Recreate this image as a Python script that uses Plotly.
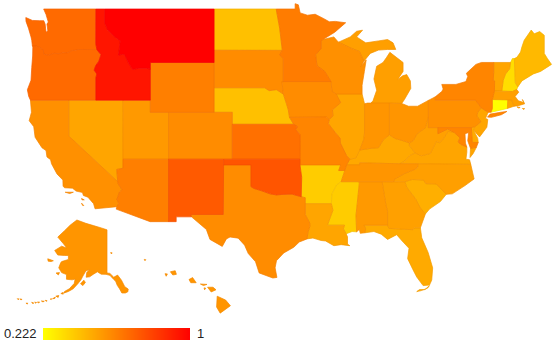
import math
import plotly.graph_objects as go
from plotly.colors import sample_colorscale

VMIN, VMAX = 0.222, 1.0
COLORSCALE = [[0, "#ffff00"], [1, "#ff0000"]]

state_values = {
    "AL": .533, "AK": .545, "AZ": .612, "AR": .378, "CA": .56, "CO": .573, "CT": .222, "DE": .48,
    "FL": .481, "GA": .512, "HI": .545, "ID": .936, "IL": .497, "IN": .545, "IA": .573, "KS": .658,
    "KY": .487, "LA": .497, "ME": .436, "MD": .594, "MA": .515, "MI": .515, "MN": .622, "MS": .378,
    "MO": .594, "MT": 1.0, "NE": .414, "NV": .497, "NH": .326, "NJ": .497, "NM": .725, "NY": .594,
    "NC": .515, "ND": .414, "OH": .545, "OK": .741, "OR": .677, "PA": .561, "RI": .5, "SC": .466,
    "SD": .573, "TN": .545, "TX": .573, "UT": .533, "VT": .497, "VA": .497, "WA": .677, "WV": .512,
    "WI": .56, "WY": .612,
}

# State outlines, (longitude, latitude)
outlines = {
"WA": [[(-122.76,49),(-117.03,49),(-117.04,46.42),(-116.92,45.99),(-118.98,46),(-119.3,45.93),(-119.6,45.92),(-120.2,45.73),(-120.65,45.74),(-121.2,45.65),(-121.53,45.72),(-122.25,45.55),(-122.75,45.65),(-122.8,45.95),(-123.2,46.15),(-123.55,46.26),(-124,46.27),(-124.07,46.7),(-124.15,46.95),(-124.43,47.6),(-124.7,48.1),(-124.72,48.38),(-124,48.17),(-123.2,48.15),(-122.75,48.15),(-122.6,47.9),(-122.5,47.3),(-122.3,47.4),(-122.4,47.9),(-122.25,48.05),(-122.5,48.6)]],
"OR": [[(-124,46.27),(-123.55,46.26),(-123.2,46.15),(-122.8,45.95),(-122.75,45.65),(-122.25,45.55),(-121.53,45.72),(-121.2,45.65),(-120.65,45.74),(-120.2,45.73),(-119.6,45.92),(-119.3,45.93),(-118.98,46),(-116.92,45.99),(-116.47,45.6),(-116.7,45.1),(-117.05,44.75),(-117.22,44.4),(-116.93,44.1),(-117.03,43.8),(-117.03,42),(-124.21,42),(-124.4,42.3),(-124.55,42.84),(-124.15,43.6),(-124.07,44.6),(-123.97,45.5),(-123.95,46.2)]],
"ID": [[(-117.03,49),(-116.05,49),(-116.05,47.97),(-115.72,47.45),(-114.95,46.95),(-114.35,46.65),(-114.55,45.56),(-114,45.65),(-113.8,45.5),(-113.45,44.95),(-113,44.45),(-112.3,44.55),(-111.5,44.55),(-111.05,44.48),(-111.05,42),(-117.03,42),(-117.03,43.8),(-116.93,44.1),(-117.22,44.4),(-117.05,44.75),(-116.7,45.1),(-116.47,45.6),(-116.92,45.99),(-117.04,46.42)]],
"MT": [[(-116.05,49),(-104.05,49),(-104.05,45),(-111.05,45),(-111.05,44.48),(-111.5,44.55),(-112.3,44.55),(-113,44.45),(-113.45,44.95),(-113.8,45.5),(-114,45.65),(-114.55,45.56),(-114.35,46.65),(-114.95,46.95),(-115.72,47.45),(-116.05,47.97)]],
"WY": [[(-111.05,45),(-104.05,45),(-104.05,41),(-111.05,41)]],
"UT": [[(-114.04,42),(-111.05,42),(-111.05,41),(-109.05,41),(-109.05,37),(-114.05,37)]],
"NV": [[(-120,42),(-114.04,42),(-114.05,37),(-114.05,36.2),(-114.74,36.1),(-114.63,35),(-120,39)]],
"CA": [[(-124.21,42),(-120,42),(-120,39),(-114.63,35),(-114.57,34.8),(-114.15,34.27),(-114.43,34.08),(-114.72,33.4),(-114.52,33.03),(-114.72,32.72),(-117.12,32.53),(-117.28,33),(-117.9,33.6),(-118.4,33.75),(-118.5,34.03),(-119.2,34.15),(-119.6,34.42),(-120.47,34.45),(-120.63,34.6),(-120.65,35.15),(-121.3,35.7),(-121.9,36.6),(-122,36.96),(-122.4,37.2),(-122.5,37.75),(-122.95,38),(-123.7,38.9),(-123.85,39.8),(-124.35,40.3),(-124.1,41)],
       [(-120.4,34.05),(-119.5,34.05),(-119.9,33.93)],[(-118.6,33.48),(-118.3,33.35),(-118.55,33.35)],[(-118.6,33.05),(-118.35,32.82),(-118.5,32.85)]],
"AZ": [[(-114.05,37),(-109.05,37),(-109.05,31.33),(-111.07,31.33),(-114.8,32.5),(-114.72,32.72),(-114.52,33.03),(-114.72,33.4),(-114.43,34.08),(-114.15,34.27),(-114.57,34.8),(-114.63,35),(-114.74,36.1),(-114.05,36.2)]],
"NM": [[(-109.05,37),(-103,37),(-103.04,32),(-106.62,32),(-106.53,31.78),(-108.21,31.78),(-108.21,31.33),(-109.05,31.33)]],
"CO": [[(-109.05,41),(-102.05,41),(-102.05,37),(-109.05,37)]],
"ND": [[(-104.05,49),(-97.23,49),(-96.85,47.6),(-96.56,45.93),(-104.05,45.94)]],
"SD": [[(-104.05,45.94),(-96.56,45.93),(-96.85,45.6),(-96.45,45.3),(-96.45,43.5),(-96.6,43.5),(-96.44,42.49),(-97.2,42.85),(-98,42.77),(-98.5,43),(-104.05,43)]],
"NE": [[(-104.05,43),(-98.5,43),(-98,42.77),(-97.2,42.85),(-96.44,42.49),(-96.1,41.7),(-95.9,41.2),(-95.77,40.58),(-95.31,40),(-102.05,40),(-102.05,41),(-104.05,41)]],
"KS": [[(-102.05,40),(-95.31,40),(-94.9,39.8),(-95.1,39.55),(-94.61,39.11),(-94.62,37),(-102.05,37)]],
"OK": [[(-103,37),(-94.62,37),(-94.62,36.5),(-94.43,35.4),(-94.48,33.64),(-95.5,33.88),(-96.6,33.85),(-97.2,33.8),(-97.9,33.9),(-98.9,34.2),(-99.7,34.4),(-100,34.56),(-100,36.5),(-103,36.5)]],
"TX": [[(-103.04,36.5),(-100,36.5),(-100,34.56),(-99.7,34.4),(-98.9,34.2),(-97.9,33.9),(-97.2,33.8),(-96.6,33.85),(-95.5,33.88),(-94.48,33.64),(-94.04,33.55),(-94.04,31.99),(-93.55,31.2),(-93.53,30.9),(-93.75,30.3),(-93.84,29.7),(-94.7,29.4),(-95.3,28.9),(-96.4,28.35),(-97.2,27.6),(-97.35,26.9),(-97.15,25.96),(-97.6,25.9),(-99.1,26.4),(-99.5,27.5),(-100.3,28.3),(-100.7,29.1),(-101.4,29.77),(-102.3,29.88),(-102.7,29.7),(-103.15,28.98),(-104.5,29.65),(-104.9,30.6),(-106.53,31.78),(-106.62,32),(-103.04,32)]],
"MN": [[(-97.23,49),(-95.15,49),(-95.15,49.38),(-94.8,49.3),(-94.6,48.72),(-93.8,48.55),(-92.95,48.62),(-92,48.3),(-91.4,48.07),(-90.75,48.1),(-89.6,48),(-90.8,47.3),(-92.1,46.75),(-92.3,46.66),(-92.29,46.07),(-92.9,45.6),(-92.75,44.75),(-91.9,44.3),(-91.22,43.5),(-96.45,43.5),(-96.45,45.3),(-96.85,45.6),(-96.56,45.93),(-96.85,47.6)]],
"IA": [[(-96.6,43.5),(-91.22,43.5),(-91.1,42.7),(-90.65,42.5),(-90.15,41.8),(-91.05,41.2),(-91,40.7),(-91.42,40.38),(-91.73,40.61),(-95.77,40.58),(-95.9,41.2),(-96.1,41.7),(-96.44,42.49)]],
"MO": [[(-95.77,40.58),(-91.73,40.61),(-91.42,40.38),(-91.5,40.05),(-90.75,39.3),(-90.2,38.8),(-90.18,38.4),(-89.5,37.3),(-89.15,37),(-89.5,36.5),(-89.7,36),(-90.37,36),(-90.15,36.5),(-94.62,36.5),(-94.62,37),(-94.61,39.11),(-95.1,39.55),(-94.9,39.8),(-95.31,40)]],
"AR": [[(-94.62,36.5),(-90.15,36.5),(-90.37,36),(-89.7,36),(-90.1,35),(-90.6,34.7),(-91.1,33.9),(-91.17,33),(-94.04,33),(-94.04,33.55),(-94.48,33.64),(-94.43,35.4)]],
"LA": [[(-94.04,33),(-91.17,33),(-91,32.4),(-91.6,31),(-89.73,31),(-89.85,30.65),(-89.55,30.18),(-89.4,29.9),(-89.4,29.2),(-89.15,29.05),(-90.1,29.15),(-90.9,29.05),(-91.8,29.5),(-92.3,29.55),(-93.2,29.78),(-93.84,29.7),(-93.75,30.3),(-93.53,30.9),(-93.55,31.2),(-94.04,31.99)]],
"MS": [[(-90.1,35),(-88.2,35),(-88.1,34.9),(-88.47,31.9),(-88.4,30.37),(-88.9,30.4),(-89.55,30.18),(-89.85,30.65),(-89.73,31),(-91.6,31),(-91,32.4),(-91.17,33),(-91.1,33.9),(-90.6,34.7)]],
"AL": [[(-88.2,35),(-85.6,35),(-85.18,32.87),(-85,32.3),(-85,31),(-87.6,31),(-87.4,30.65),(-87.5,30.28),(-88,30.23),(-88.1,30.6),(-88.4,30.37),(-88.47,31.9),(-88.1,34.9)]],
"TN": [[(-89.5,36.5),(-88.05,36.5),(-88.07,36.68),(-83.68,36.6),(-81.68,36.59),(-81.7,36.3),(-82,36.1),(-83.1,35.75),(-84.3,35.2),(-84.32,34.99),(-85.6,35),(-88.2,35),(-90.1,35),(-89.7,36)]],
"KY": [[(-89.15,37),(-89.5,36.5),(-88.05,36.5),(-88.07,36.68),(-83.68,36.6),(-83.1,36.85),(-82.6,37.3),(-81.97,37.54),(-82.6,38.17),(-82.6,38.42),(-83.3,38.6),(-84.2,38.8),(-84.8,39.1),(-85.45,38.7),(-86,38),(-86.8,37.95),(-88.05,37.8),(-88.5,37.1)]],
"IL": [[(-90.65,42.5),(-87.8,42.5),(-87.53,41.7),(-87.53,39.35),(-87.6,38.75),(-88.05,37.8),(-88.5,37.1),(-89.15,37),(-89.5,37.3),(-90.18,38.4),(-90.2,38.8),(-90.75,39.3),(-91.5,40.05),(-91.42,40.38),(-91,40.7),(-91.05,41.2),(-90.15,41.8)]],
"IN": [[(-87.53,41.7),(-87.2,41.76),(-84.8,41.76),(-84.8,39.1),(-85.45,38.7),(-86,38),(-86.8,37.95),(-88.05,37.8),(-87.6,38.75),(-87.53,39.35)]],
"OH": [[(-84.8,41.76),(-83.45,41.73),(-82.7,41.5),(-81.7,41.5),(-80.52,41.98),(-80.52,40.64),(-80.85,39.7),(-81.75,39.2),(-82.2,38.6),(-82.6,38.42),(-83.3,38.6),(-84.2,38.8),(-84.8,39.1)]],
"MI": [[(-86.82,41.76),(-84.8,41.76),(-83.45,41.73),(-83.15,42.05),(-82.45,42.95),(-82.5,43.55),(-82.9,44.05),(-83.35,43.95),(-83.9,43.65),(-83.3,44.3),(-83.3,45),(-84.75,45.78),(-85.1,45.4),(-85.5,45),(-86.2,44.7),(-86.5,43.7),(-86.2,42.8),(-86.6,41.95)],
       [(-90.4,46.55),(-89.1,46.95),(-88.4,47.37),(-87.75,47.45),(-88.4,46.95),(-87.4,46.5),(-86,46.65),(-85,46.75),(-84.4,46.5),(-84.1,46),(-85,46),(-86,45.95),(-86.9,45.7),(-87.6,45.1),(-88.1,45.85),(-89,46.1)]],
"WI": [[(-92.29,46.07),(-92.3,46.66),(-92.1,46.75),(-90.9,46.95),(-90.4,46.55),(-89,46.1),(-88.1,45.85),(-87.6,45.1),(-87.95,44.65),(-87.35,45.2),(-87.55,44.3),(-87.8,43.2),(-87.8,42.5),(-90.65,42.5),(-91.1,42.7),(-91.22,43.5),(-91.9,44.3),(-92.75,44.75),(-92.9,45.6)]],
"NY": [[(-79.76,42.27),(-79.05,42.7),(-78.9,42.9),(-79.05,43.27),(-77.5,43.27),(-76.4,43.5),(-76.2,43.9),(-76.35,44.15),(-75.3,44.85),(-74.7,45),(-73.35,45),(-73.35,44.2),(-73.4,43.6),(-73.25,43.55),(-73.27,42.75),(-73.5,42.05),(-73.5,41.3),(-73.65,41),(-73.95,41),(-74.7,41.36),(-75.35,42),(-79.76,42)],
       [(-74.03,40.6),(-73.75,40.85),(-72.6,41),(-71.9,41.07),(-72.5,40.8),(-73.6,40.58)]],
"PA": [[(-80.52,41.98),(-79.76,42.27),(-79.76,42),(-75.35,42),(-74.7,41.36),(-75.1,41),(-75.2,40.7),(-74.75,40.2),(-75.4,39.8),(-75.8,39.72),(-80.52,39.72)]],
"NJ": [[(-74.7,41.36),(-73.95,41),(-74.25,40.5),(-74,40.4),(-74.1,39.75),(-74.9,38.93),(-75.55,39.5),(-75.4,39.8),(-74.75,40.2),(-75.2,40.7),(-75.1,41)]],
"DE": [[(-75.8,39.72),(-75.4,39.8),(-75.55,39.5),(-75.1,38.8),(-75.05,38.45),(-75.7,38.46)]],
"MD": [[(-79.48,39.72),(-75.8,39.72),(-75.7,38.46),(-75.05,38.45),(-75.25,38.03),(-75.9,37.95),(-76.2,38.6),(-76.1,39.3),(-76.5,39.2),(-76.45,38.4),(-76.3,38.05),(-77,38.3),(-77.25,38.5),(-77.05,38.85),(-77.7,39.32),(-78.4,39.6),(-79.48,39.2)]],
"VA": [[(-83.68,36.6),(-75.87,36.55),(-76,36.95),(-76.4,37),(-76.3,37.6),(-76.3,38.05),(-77,38.3),(-77.25,38.5),(-77.05,38.85),(-77.7,39.32),(-78.35,39.4),(-78.87,38.77),(-79.3,38.42),(-79.65,38.55),(-80.3,37.5),(-81.3,37.3),(-81.97,37.54),(-82.6,37.3),(-83.1,36.85)],
       [(-75.25,38.03),(-75.9,37.95),(-75.95,37.15),(-75.6,37.5)]],
"WV": [[(-82.6,38.42),(-82.6,38.17),(-81.97,37.54),(-81.3,37.3),(-80.3,37.5),(-79.65,38.55),(-79.3,38.42),(-78.87,38.77),(-78.35,39.4),(-77.7,39.32),(-78.4,39.6),(-79.48,39.2),(-79.48,39.72),(-80.52,39.72),(-80.52,40.64),(-80.85,39.7),(-81.75,39.2),(-82.2,38.6)]],
"NC": [[(-84.32,34.99),(-84.3,35.2),(-83.1,35.75),(-82,36.1),(-81.7,36.3),(-81.68,36.59),(-75.87,36.55),(-75.5,35.25),(-76.5,34.65),(-77.9,33.9),(-78.55,33.86),(-79.67,34.8),(-80.8,34.82),(-81.05,35.15),(-82.3,35.2),(-83.1,35)]],
"SC": [[(-83.1,35),(-82.3,35.2),(-81.05,35.15),(-80.8,34.82),(-79.67,34.8),(-78.55,33.86),(-79.2,33.2),(-80.4,32.5),(-80.85,32.05),(-81.4,32.6),(-81.9,33.4),(-82.9,34.5)]],
"GA": [[(-85.6,35),(-84.32,34.99),(-83.1,35),(-82.9,34.5),(-81.9,33.4),(-81.4,32.6),(-80.85,32.05),(-81.4,30.75),(-82.05,30.75),(-82.2,30.57),(-84.86,30.7),(-85,31),(-85,32.3),(-85.18,32.87)]],
"FL": [[(-87.6,31),(-85,31),(-84.86,30.7),(-82.2,30.57),(-82.05,30.75),(-81.4,30.75),(-81.25,29.8),(-80.55,28.4),(-80.05,26.9),(-80.15,25.7),(-80.4,25.2),(-81.1,25.15),(-81.8,26),(-82.2,26.7),(-82.8,27.8),(-82.65,28.8),(-83.4,29.5),(-84,30.1),(-85,29.65),(-85.7,30.15),(-86.5,30.4),(-87.5,30.28),(-87.4,30.65)],
       [(-81.8,24.55),(-81.3,24.65),(-80.6,24.9),(-80.4,25.15),(-80.9,24.75),(-81.5,24.75)]],
"VT": [[(-73.35,45),(-71.5,45),(-71.6,44.5),(-72.05,44.1),(-72.3,43.6),(-72.46,42.73),(-73.27,42.75),(-73.25,43.55),(-73.4,43.6),(-73.35,44.2)]],
"NH": [[(-71.5,45),(-71.3,45.3),(-71.08,45.3),(-70.98,43.4),(-70.7,43.07),(-70.82,42.87),(-71.3,42.7),(-72.46,42.73),(-72.3,43.6),(-72.05,44.1),(-71.6,44.5)]],
"ME": [[(-71.08,45.3),(-70.8,45.4),(-70.4,45.8),(-70.25,46.2),(-70,46.7),(-69.23,47.46),(-68.9,47.18),(-68.3,47.35),(-67.8,47.07),(-67.8,45.7),(-67.45,45.3),(-67,44.85),(-68.2,44.3),(-69,44.1),(-69.8,43.75),(-70.25,43.55),(-70.7,43.07),(-70.98,43.4)]],
"MA": [[(-73.5,42.05),(-73.27,42.75),(-72.46,42.73),(-71.3,42.7),(-70.82,42.87),(-70.6,42.65),(-71,42.3),(-70.65,41.95),(-70.05,41.8),(-70.2,42.05),(-69.95,41.7),(-70.65,41.55),(-71.12,41.5),(-71.38,42.02),(-71.8,42.02)],
       [(-70.8,41.45),(-70.45,41.4),(-70.6,41.35)],[(-70.2,41.32),(-69.95,41.3),(-70.1,41.24)]],
"CT": [[(-73.5,42.05),(-71.8,42.02),(-71.85,41.32),(-73.65,41),(-73.5,41.3)]],
"RI": [[(-71.8,42.02),(-71.38,42.02),(-71.12,41.5),(-71.85,41.32)]],
}

alaska_outline = [
    [(-141,69.65),(-141,60.3),(-139.5,60.2),(-137.5,59.2),(-135.5,59.75),(-133.5,58.4),(-131.8,56.6),(-130,55.9),(-130.2,55.1),(-131.5,54.75),(-133.3,54.75),(-134.5,56),(-135.7,57),(-136.5,58.1),(-137.5,58.6),(-139.5,59.7),(-141.5,59.95),(-144,60),(-146,60.6),(-148,60),(-150,59.3),(-151.8,59.2),(-151.5,60.4),(-150,61.2),(-152,60.8),(-153.5,59.5),(-154.5,58.5),(-156,57.5),(-158.5,56),(-161,55.2),(-163.5,54.7),(-163,55.2),(-160.5,56),(-158,57.5),(-157.5,58.7),(-159,58.5),(-162,58.65),(-162,59.9),(-164.5,60.4),(-166,61.6),(-165,62.8),(-164.5,63.1),(-161,63.6),(-161,64.5),(-163,64.5),(-166.5,64.6),(-168.1,65.6),(-164.5,66.5),(-161.8,66.1),(-163.8,67.1),(-166.5,68.3),(-163,69.5),(-160,70.5),(-156.6,71.35),(-152,70.8),(-148,70.4),(-144,70)],
    [(-154.7,57.4),(-153,58.4),(-152.2,57.8),(-153.5,56.9)],
    [(-171.7,63.75),(-168.8,63.3),(-170,63.1),(-171.5,63.2)],
    [(-167.4,60.3),(-165.6,60.4),(-166.2,59.8)],
    [(-164.9,54.6),(-163.8,54.9),(-163.7,54.4)],
    [(-167.5,53.8),(-166,54),(-166.3,53.4)],
    [(-169.2,53),(-167.8,53.5),(-168,53.1)],
    [(-170.4,52.9),(-169.6,53),(-169.9,52.75)],
    [(-173,52.5),(-172,52.35),(-172.6,52.2)],
    [(-175,52.3),(-173.5,52.2),(-174.2,52)],
    [(-177,52),(-175.9,51.9),(-176.6,51.65)],
    [(-178.5,51.9),(-177.5,51.8),(-178,51.6)],
    [(-180,51.9),(-178.9,51.6),(-179.6,51.5)],
    [(-183,51.6),(-181.9,51.55),(-182.4,51.3)],
    [(-186.1,52.95),(-185,52.8),(-185.6,52.65)],
    [(-187.5,53),(-186.5,52.9),(-187.1,52.75)],
]

hawaii_outline = [
    [(-155.9,20.25),(-155.2,19.95),(-154.8,19.5),(-155.65,18.92),(-155.95,19.4)],
    [(-156.7,20.95),(-156.25,20.95),(-156,20.75),(-156.4,20.58)],
    [(-157.3,21.2),(-156.75,21.17),(-157.05,21.08)],
    [(-157,20.9),(-156.85,20.87),(-156.95,20.75)],
    [(-158.25,21.55),(-157.95,21.7),(-157.65,21.3),(-158.1,21.3)],
    [(-159.8,22.15),(-159.4,22.23),(-159.3,21.95),(-159.6,21.9)],
    [(-160.25,22),(-160.05,21.98),(-160.15,21.8)],
    [(-161.98,23.1),(-161.85,23.08),(-161.92,23)],
    [(-164.78,23.62),(-164.65,23.6),(-164.72,23.52)],
]

SX = 9.108
LON0 = -124.7 - 26 / SX


def merc(lat):
    return math.degrees(math.log(math.tan(math.radians(45 + lat / 2))))


TOP = merc(49) + 9 / SX


def px_x(px):
    return LON0 + px / SX


def px_y(py):
    return TOP - py / SX


def inset(rings, scale, lon_a, lat_a, px_a, py_a):
    k = scale / SX
    return [[(px_x(px_a) + k * (lon - lon_a), px_y(py_a) + k * (merc(lat) - merc(lat_a))) for lon, lat in r] for r in rings]


shapes_xy = {s: [[(lon, merc(lat)) for lon, lat in r] for r in rings] for s, rings in outlines.items()}
shapes_xy["AK"] = inset(alaska_outline, 1.93, -141, 60.3, 107, 273)
shapes_xy["HI"] = inset(hawaii_outline, 12.0, -155.5, 19.6, 222, 304.5)


def rgb_of(color):
    return [int(float(c)) for c in color[color.index("(") + 1:-1].split(",")]


fig = go.Figure()
order = sorted(shapes_xy, key=lambda s: state_values[s])
for s in order:
    v = state_values[s]
    col = sample_colorscale(COLORSCALE, [(v - VMIN) / (VMAX - VMIN)])[0]
    r, g, b = rgb_of(col)
    edge = f"rgb({int(r * .96)},{int(g * .92)},0)"
    xs, ys = [], []
    for ring in shapes_xy[s]:
        xs += [p[0] for p in ring] + [ring[0][0], None]
        ys += [p[1] for p in ring] + [ring[0][1], None]
    fig.add_trace(go.Scatter(x=xs, y=ys, mode="lines", fill="toself", fillcolor=col,
                             line=dict(color=edge, width=0.7, simplify=False), hoverinfo="text",
                             text=f"{s}: {v}", showlegend=False))

# colour-axis legend
fig.add_trace(go.Heatmap(x=[VMIN, VMAX], y=[0, 1], z=[[VMIN, VMAX], [VMIN, VMAX]], zmin=VMIN, zmax=VMAX,
                         zsmooth="best", colorscale=COLORSCALE, showscale=False, hoverinfo="skip",
                         xaxis="x2", yaxis="y2"))

font = dict(family="Liberation Sans, Arial, sans-serif", size=13, color="#222222")
fig.update_layout(
    width=558, height=342, margin=dict(l=0, r=0, t=0, b=0), autosize=False,
    paper_bgcolor="white", plot_bgcolor="white", showlegend=False,
    xaxis=dict(range=[px_x(0), px_x(558)], visible=False, fixedrange=True),
    yaxis=dict(range=[px_y(342), px_y(0)], visible=False, fixedrange=True),
    xaxis2=dict(domain=[43 / 558, 190 / 558], range=[VMIN, VMAX], visible=False, fixedrange=True, anchor="y2"),
    yaxis2=dict(domain=[2 / 342, 14 / 342], range=[0, 1], visible=False, fixedrange=True, anchor="x2"),
    annotations=[
        dict(text=f"{VMIN}", x=4 / 558, y=(342 - 333.5) / 342, xref="paper", yref="paper", xanchor="left", yanchor="middle", showarrow=False, font=font, xshift=-2),
        dict(text=f"{VMAX:g}", x=197 / 558, y=(342 - 333.5) / 342, xref="paper", yref="paper", xanchor="left", yanchor="middle", showarrow=False, font=font, xshift=-2),
    ],
)
fig.write_html("out.html", config={"displayModeBar": False},
               post_script="document.body.style.margin='0';document.documentElement.style.overflow='hidden';")
